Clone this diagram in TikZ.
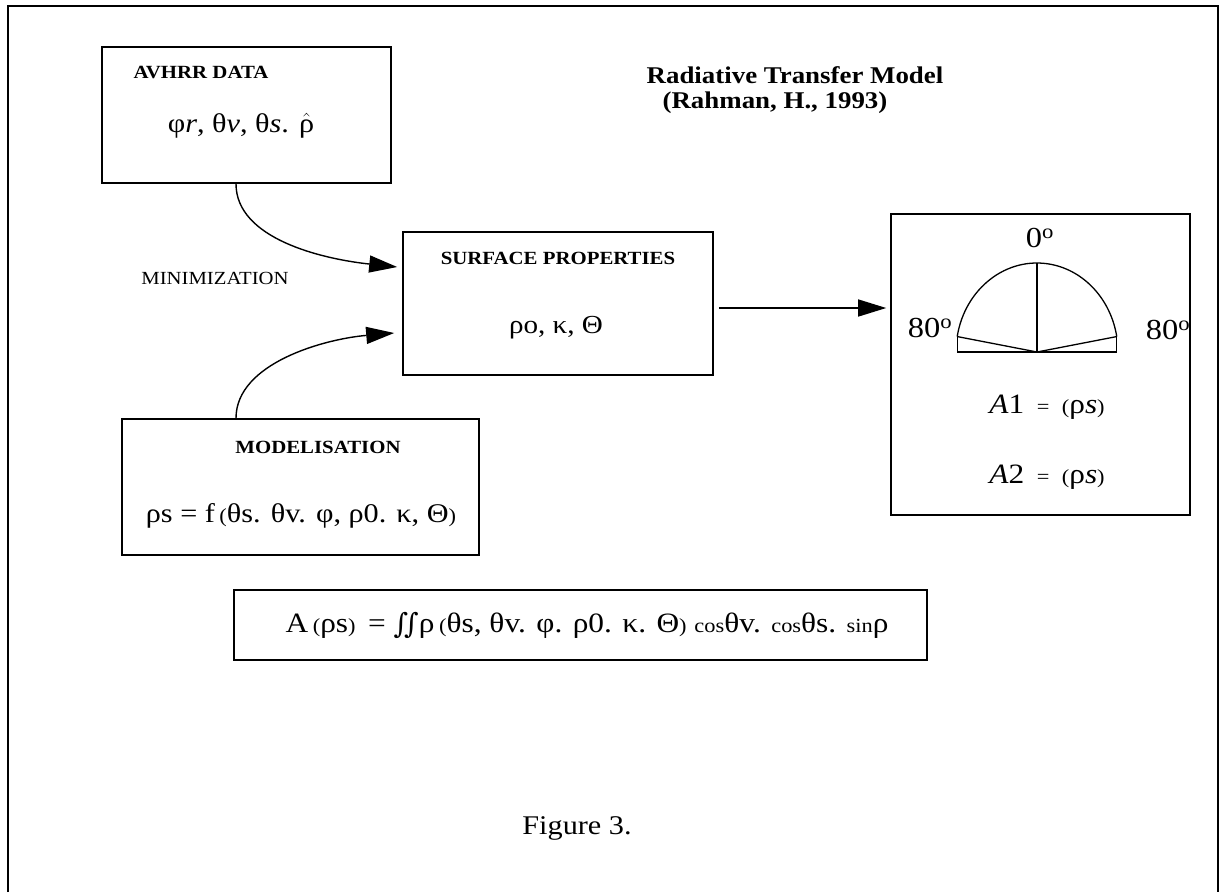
\documentclass[tikz,border=0pt]{standalone}
\usepackage{fontspec}
\setmainfont{Liberation Serif}[FakeStretch=1.12]
\newfontfamily\dvs{DejaVu Serif}
\usetikzlibrary{arrows.meta}
\newcommand{\smp}[1]{{\fontsize{20}{20}\selectfont #1}}
\newcommand{\intg}{{\dvs\fontsize{28}{28}\selectfont\raisebox{-1pt}{∫\kern-4pt∫}}}
\begin{document}
\begin{tikzpicture}[x=1pt,y=-1pt,
  box/.style={draw, line width=1.6pt, inner sep=0pt},
  arr/.style={line width=1.4pt, -{Triangle[length=28pt,width=17pt]}},
  hd/.style={font=\fontsize{18.6}{22}\selectfont\bfseries, inner sep=0pt},
  fm/.style={font=\fontsize{27}{30}\selectfont, inner sep=0pt},
  ttl/.style={font=\fontsize{24}{28}\selectfont\bfseries, inner sep=0pt},
  deg/.style={font=\fontsize{29}{32}\selectfont, inner sep=0pt},
  thin/.style={line width=1.3pt}
]
\useasboundingbox (0,0) rectangle (1220,892);
% outer frame (open at the bottom)
\draw[line width=1.6pt] (8,892) -- (8,6) -- (1218,6) -- (1218,892);

% title
\node[ttl] (title) at (795,75) {Radiative Transfer Model};
\node[ttl] (ref) at (775,103) {(Rahman, H., 1993)};

% boxes
\node[box, minimum width=289pt, minimum height=136pt] (avhrr) at (246.5,115) {};
\node[box, minimum width=310pt, minimum height=143pt] (surf) at (558,303.5) {};
\node[box, minimum width=299pt, minimum height=301pt] (res) at (1040.5,364.5) {};
\node[box, minimum width=357pt, minimum height=136pt] (model) at (300.5,487) {};
\node[box, minimum width=693pt, minimum height=70pt] (alb) at (580.5,625) {};

% box texts
\node[hd] (avhrrT) at (201,72) {AVHRR DATA};
\node[fm] (avhrrF) at (241,126) {φ\textit{r}, θ\textit{v}, θ\textit{s}. $\hat{\hbox{ρ}}$};
\node[hd] (surfT) at (558,258) {SURFACE PROPERTIES};
\node[fm, font=\fontsize{26}{30}\selectfont] (surfF) at (556,328) {ρo, κ, Θ};
\node[hd] (modelT) at (318,447) {MODELISATION};
\node[fm] (modelF) at (301,516) {ρs = f\,\smp{(}θs. θv. φ, ρ0. κ, Θ\smp{)}};
\node[fm, font=\fontsize{28}{30}\selectfont] (albF) at (587,625) {A\,\smp{(}ρs\smp{)}\, = \intg ρ\,\smp{(}θs, θv. φ. ρ0. κ. Θ\smp{)} \smp{cos}θv. \smp{cos}θs. \smp{sin}ρ};
\node[font=\fontsize{18.5}{22}\selectfont, inner sep=0pt] (minim) at (215,278) {MINIMIZATION};

% connectors
\draw[arr] ([xshift=-10.5pt]avhrr.south) .. controls +(0,55) and +(-75,-8) .. ([shift={(-5,-36.5)}]surf.west);
\draw[arr] ([xshift=-64.5pt]model.north) .. controls +(0,-55) and +(-70,6) .. ([shift={(-8,29.5)}]surf.west);
\coordinate (a0) at ([shift={(5,4.5)}]surf.east);
\draw[arr, shorten >=4pt] (a0) -- (a0 -| res.west);

% hemisphere diagram
\coordinate (c) at (1037,352);
\coordinate (pl) at ([shift={(-79.8pt,15.45pt)}]c);
\coordinate (pr) at ([shift={(79.8pt,15.45pt)}]c);
\draw[thin] (pl) arc[start angle=170, end angle=10, x radius=81pt, y radius=89pt];
\draw[thin] (pl) -- (pl |- c) -- (pr |- c) -- (pr);
\draw[thin] (pl) -- (c) -- (pr);
\draw[thin] (c) -- ++(0,-89);
\node[deg] (d0) at (1040,238) {0\textsuperscript{o}};
\node[deg] (d80l) at (930,328) {80\textsuperscript{o}};
\node[deg] (d80r) at (1168,330) {80\textsuperscript{o}};
\node[fm, font=\fontsize{28}{30}\selectfont] (a1) at (1047,407) {\textit{A}1\, \smp{=}\, \smp{(}ρ\textit{s}\smp{)}};
\node[fm, font=\fontsize{28}{30}\selectfont] (a2) at (1047,477) {\textit{A}2\, \smp{=}\, \smp{(}ρ\textit{s}\smp{)}};

\node[font=\fontsize{27}{30}\selectfont, inner sep=0pt] (fig) at (577,828) {Figure 3.};
\end{tikzpicture}
\end{document}
